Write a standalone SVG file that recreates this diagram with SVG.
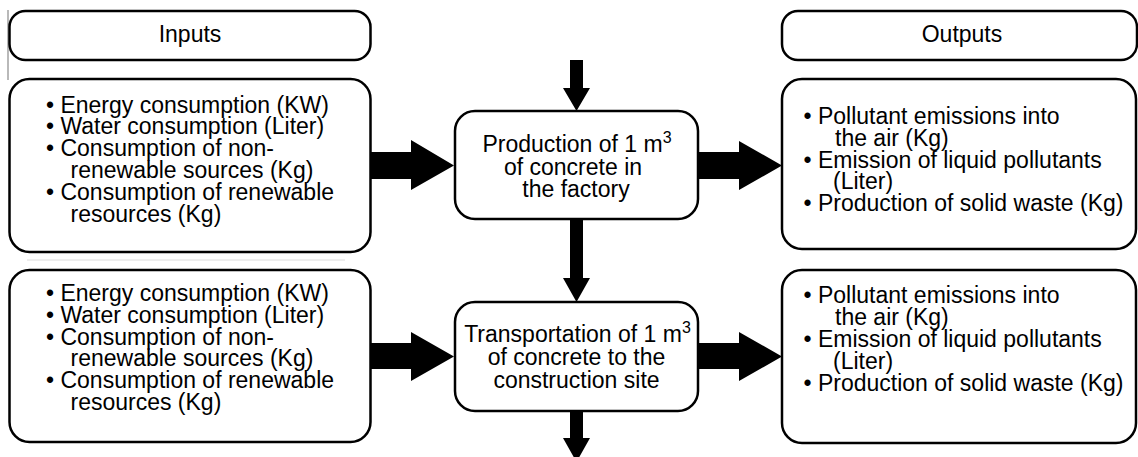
<svg xmlns="http://www.w3.org/2000/svg" width="1138" height="457" viewBox="0 0 1138 457">
<style>
.box{fill:#fff;stroke:#000;stroke-width:2.5}
.t{font-family:"Liberation Sans",Arial,Helvetica,sans-serif;font-size:23px;fill:#000}
.c{text-anchor:middle}
.arr{fill:#000;stroke:none}
.sup{font-size:16px}
</style>
<rect width="1138" height="457" fill="#fff"/>
<g id="artifacts">
<line x1="8" y1="10" x2="8" y2="80" stroke="#8a8a8a" stroke-width="1.2"/>
<line x1="27" y1="260" x2="345" y2="260" stroke="#dcdcdc" stroke-width="1"/>
</g>
<g id="connectors">
<polygon class="arr" points="570,60 583,60 583,88 590,88 576.5,111 563,88 570,88"/>
<polygon class="arr" points="570,219 583,219 583,278 590,278 576.5,302 563,278 570,278"/>
<polygon class="arr" points="570,411 583,411 583,438 590,438 576.5,462 563,438 570,438"/>
<polygon class="arr" points="371,152 411,152 411,140 454,165.5 411,190 411,179 371,179"/>
<polygon class="arr" points="698,152 739,152 739,141 782,165.5 739,190 739,179 698,179"/>
<polygon class="arr" points="371,343 411,343 411,332 454,356.5 411,381 411,369 371,369"/>
<polygon class="arr" points="698,343 739,343 739,332 782,356.5 739,381 739,369 698,369"/>
</g>
<g id="inputs-header">
<rect class="box" x="9.5" y="11" width="361" height="49" rx="16"/>
<text class="t c" x="190" y="42">Inputs</text>
</g>
<g id="outputs-header">
<rect class="box" x="782" y="11" width="355" height="49" rx="16"/>
<text class="t c" x="962" y="42">Outputs</text>
</g>
<g id="inputs-1">
<rect class="box" x="9.5" y="79" width="361" height="173" rx="20"/>
<text class="t" x="46" y="112.5">• Energy consumption (KW)</text>
<text class="t" x="46" y="134.3">• Water consumption (Liter)</text>
<text class="t" x="46" y="156.1">• Consumption of non-</text>
<text class="t" x="70.5" y="177.9">renewable sources (Kg)</text>
<text class="t" x="46" y="199.7">• Consumption of renewable</text>
<text class="t" x="70.5" y="221.5">resources (Kg)</text>
</g>
<g id="inputs-2">
<rect class="box" x="9.5" y="270" width="361" height="172" rx="20"/>
<text class="t" x="46" y="301">• Energy consumption (KW)</text>
<text class="t" x="46" y="322.8">• Water consumption (Liter)</text>
<text class="t" x="46" y="344.6">• Consumption of non-</text>
<text class="t" x="70.5" y="366.4">renewable sources (Kg)</text>
<text class="t" x="46" y="388.2">• Consumption of renewable</text>
<text class="t" x="70.5" y="410">resources (Kg)</text>
</g>
<g id="production">
<rect class="box" x="455" y="111" width="243" height="108" rx="20"/>
<text class="t c" x="577" y="152">Production of 1 m<tspan class="sup" dy="-9">3</tspan></text>
<text class="t c" x="573" y="174.5">of concrete in</text>
<text class="t c" x="576" y="197">the factory</text>
</g>
<g id="transportation">
<rect class="box" x="455" y="302" width="243" height="109" rx="20"/>
<text class="t c" x="577.5" y="342">Transportation of 1 m<tspan class="sup" dy="-9">3</tspan></text>
<text class="t c" x="576.5" y="365">of concrete to the</text>
<text class="t c" x="576.5" y="388">construction site</text>
</g>
<g id="outputs-1">
<rect class="box" x="782" y="79" width="354" height="170" rx="20"/>
<text class="t" x="803.5" y="124">• Pollutant emissions into</text>
<text class="t" x="835" y="145.8">the air (Kg)</text>
<text class="t" x="803.5" y="167.6">• Emission of liquid pollutants</text>
<text class="t" x="833" y="189.4">(Liter)</text>
<text class="t" x="803.5" y="211.2">• Production of solid waste (Kg)</text>
</g>
<g id="outputs-2">
<rect class="box" x="782" y="270" width="354" height="173" rx="20"/>
<text class="t" x="803.5" y="303">• Pollutant emissions into</text>
<text class="t" x="835" y="325">the air (Kg)</text>
<text class="t" x="803.5" y="347">• Emission of liquid pollutants</text>
<text class="t" x="833" y="369">(Liter)</text>
<text class="t" x="803.5" y="391">• Production of solid waste (Kg)</text>
</g>
</svg>
